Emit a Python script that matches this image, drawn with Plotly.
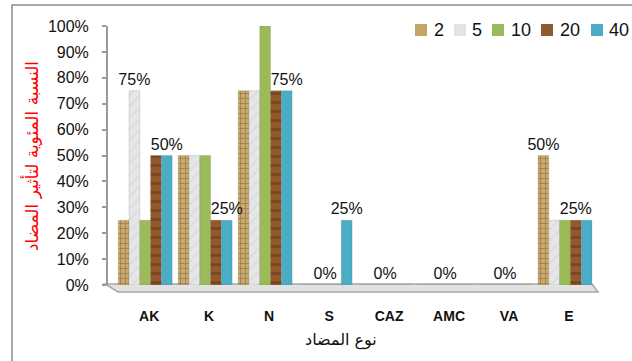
import plotly.graph_objects as go

categories = ["AK", "K", "N", "S", "CAZ", "AMC", "VA", "E"]
series_names = ["2", "5", "10", "20", "40"]
s2 = [0.25, 0.50, 0.75, 0.0, 0.0, 0.0, 0.0, 0.50]
s5 = [0.75, 0.50, 0.75, 0.0, 0.0, 0.0, 0.0, 0.25]
s10 = [0.25, 0.50, 1.00, 0.0, 0.0, 0.0, 0.0, 0.25]
s20 = [0.50, 0.25, 0.75, 0.0, 0.0, 0.0, 0.0, 0.25]
s40 = [0.50, 0.25, 0.75, 0.25, 0.0, 0.0, 0.0, 0.25]
# data labels shown in the reference (empty = no label)
lab2 = ["", "", "", "", "", "", "", "50%"]
lab5 = ["75%", "", "", "", "", "", "", ""]
lab10 = ["", "", "", "0%", "0%", "0%", "0%", ""]
lab20 = ["", "", "", "", "", "", "", "25%"]
lab40 = ["50%", "25%", "75%", "25%", "", "", "", ""]
yticks = [0, 0.1, 0.2, 0.3, 0.4, 0.5, 0.6, 0.7, 0.8, 0.9, 1.0]
yticklabels = ["0%", "10%", "20%", "30%", "40%", "50%", "60%", "70%", "80%", "90%", "100%"]

W_FIG, H_FIG = 632, 361
L, R, T, B = 108, 595, 26, 285
PW, PH = R - L, B - T


def px(p):
    return (p - L) / PW


def py(p):
    return (B - p) / PH


styles = [
    dict(color="#C9A96C", pattern=dict(shape="+", fgcolor="#5E4325", size=5, solidity=0.25)),
    dict(color="#E6E6E8", pattern=dict(shape="/", fgcolor="#CFCFD2", size=8, solidity=0.2)),
    dict(color="#9BBB59"),
    dict(color="#94592B", pattern=dict(shape="-", fgcolor="#5A3216", size=9, solidity=0.3)),
    dict(color="#4BACC6"),
]
values = [s2, s5, s10, s20, s40]
labels = [lab2, lab5, lab10, lab20, lab40]

fig = go.Figure()
for name, vals, labs, st in zip(series_names, values, labels, styles):
    marker = dict(color=st["color"], line=dict(color="rgba(90,90,90,0.35)", width=0.5))
    if "pattern" in st:
        marker["pattern"] = st["pattern"]
    fig.add_trace(go.Bar(
        x=categories, y=vals, name=name, marker=marker,
        text=labs, textposition="outside", cliponaxis=False,
        constraintext="none",
        textfont=dict(family="Liberation Sans, Arial", size=16, color="#111"),
        showlegend=False,
    ))

shapes = []
# outer frame
shapes.append(dict(type="rect", xref="paper", yref="paper",
                   x0=px(12), x1=px(660), y0=py(5), y1=py(380),
                   line=dict(color="#8C8C8C", width=1.5), fillcolor="rgba(0,0,0,0)", layer="below"))
# floor
floor_path = "M {a},{b} L {c},{b} L {d},{e} L {f},{e} Z".format(
    a=px(105), b=py(284), c=px(592), d=px(598), e=py(292), f=px(118))
shapes.append(dict(type="path", xref="paper", yref="paper", path=floor_path,
                   fillcolor="#E2E2E2", line=dict(color="#A6A6A6", width=1.5), layer="below"))

# legend swatches
leg_sw = [415, 454, 492, 541, 591]
leg_tx = [432, 470, 509, 558, 607]
leg_cols = ["#C4A568", "#E3E3E5", "#9BBB59", "#8E5A2E", "#4BACC6"]
annotations = []
for sx, tx, c, n in zip(leg_sw, leg_tx, leg_cols, series_names):
    shapes.append(dict(type="rect", xref="paper", yref="paper",
                       x0=px(sx), x1=px(sx + 12), y0=py(36), y1=py(24),
                       fillcolor=c, line=dict(width=0)))
    annotations.append(dict(xref="paper", yref="paper", x=px(tx), y=py(30),
                            xanchor="left", yanchor="middle", showarrow=False, text=n,
                            font=dict(family="Liberation Sans, Arial", size=18, color="#111")))

# axis titles
annotations.append(dict(xref="paper", yref="paper", x=px(31), y=py(156), textangle=-90,
                        xanchor="center", yanchor="middle", showarrow=False,
                        text="النسبة المئوية لتأثير المضاد",
                        font=dict(family="DejaVu Sans, Arial", size=17, color="#FF0000")))
annotations.append(dict(xref="paper", yref="paper", x=px(341), y=py(340),
                        xanchor="center", yanchor="middle", showarrow=False,
                        text="نوع المضاد",
                        font=dict(family="DejaVu Sans, Arial", size=16, color="#111")))

fig.update_layout(
    width=W_FIG, height=H_FIG,
    margin=dict(l=L, r=W_FIG - R, t=T, b=H_FIG - B),
    paper_bgcolor="white", plot_bgcolor="white",
    barmode="group", bargap=0.1, bargroupgap=0.0,
    showlegend=False,
    shapes=shapes, annotations=annotations,
    xaxis=dict(
        range=[-0.62, 7.5], showgrid=False, zeroline=False, showline=False,
        ticks="", tickfont=dict(family="Liberation Sans, Arial", size=14, color="#111", weight="bold"),
        ticklabelstandoff=21, ticklabelshift=4,
    ),
    yaxis=dict(
        range=[0, 1.0], tickvals=yticks, ticktext=yticklabels,
        showgrid=False, zeroline=False, showline=True, linecolor="#9A9A9A", linewidth=2,
        ticks="outside", ticklen=4, tickcolor="#9A9A9A", tickwidth=1.5,
        tickfont=dict(family="Liberation Sans, Arial", size=16, color="#111"),
        ticklabelstandoff=10,
    ),
)

fig.write_html("out.html")
